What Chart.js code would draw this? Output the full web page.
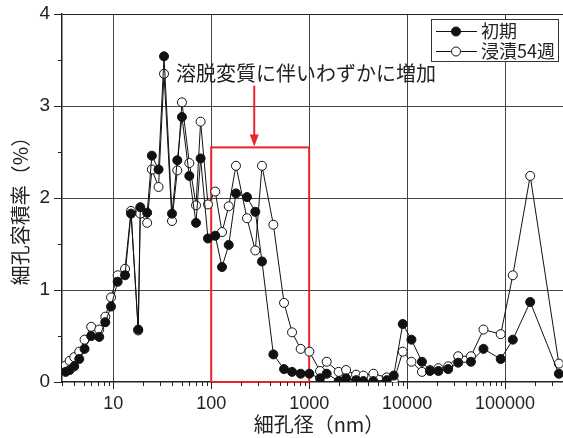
<!DOCTYPE html>
<html><head><meta charset="utf-8">
<script src="https://cdn.jsdelivr.net/npm/chart.js@4.4.1/dist/chart.umd.min.js"></script>
<style>html,body{margin:0;padding:0;background:#fff;overflow:hidden}#wrap{width:563px;height:438px;position:relative}</style>
</head><body><div id="wrap"><canvas id="c" width="563" height="438"></canvas></div>
<script>
// ---- data ----
const poreSize = [3.27, 3.59, 4.0, 4.5, 5.1, 5.96, 7.2, 8.3, 9.5, 11.1,
  13.2, 15.2, 18.0, 18.9, 22.2, 24.8, 29.0, 33.0, 39.8, 45.1,
  50.3, 59.8, 70.0, 78.0, 92.7, 110, 129, 151, 179, 232,
  282, 330, 431, 554, 669, 819, 1005, 1292, 1510, 2000,
  2382, 3013, 3579, 4525, 6190, 7300, 9020, 11070, 14160, 17100,
  20880, 26240, 33200, 44850, 60150, 90200, 119900, 180400, 353800];
const initialVol = [0.11, 0.13, 0.17, 0.25, 0.36, 0.50, 0.49, 0.65, 0.82, 1.09,
  1.16, 1.83, 0.57, 1.90, 1.84, 2.46, 2.31, 3.54, 1.83, 2.41,
  2.88, 2.24, 1.73, 2.43, 1.56, 1.59, 1.25, 1.49, 2.05, 2.01,
  1.85, 1.31, 0.30, 0.14, 0.11, 0.09, 0.09, 0.04, 0.09, 0.01,
  0.04, 0.02, 0.01, 0.01, 0.02, 0.07, 0.63, 0.46, 0.22, 0.12,
  0.12, 0.14, 0.21, 0.22, 0.36, 0.25, 0.46, 0.87, 0.09];
const immersedVol = [0.18, 0.23, 0.27, 0.33, 0.46, 0.60, 0.57, 0.71, 0.92, 1.16,
  1.23, 1.86, 0.56, 1.83, 1.73, 2.31, 2.12, 3.35, 1.75, 2.30,
  3.04, 2.38, 1.92, 2.83, 1.93, 2.07, 1.63, 1.91, 2.35, 1.78,
  1.43, 2.35, 1.71, 0.86, 0.54, 0.36, 0.33, 0.12, 0.22, 0.11,
  0.13, 0.08, 0.07, 0.09, 0.05, 0.01, 0.33, 0.22, 0.11, 0.13,
  0.15, 0.17, 0.28, 0.28, 0.57, 0.52, 1.16, 2.24, 0.20];
const seriesNames = ['初期', '浸漬54週'];
const xMajorTicks = [10, 100, 1000, 10000, 100000];
const yMajorTicks = [0, 1, 2, 3, 4];
const xTitle = '細孔径（nm）';
const yTitle = '細孔容積率（%）';
const noteText = '溶脱変質に伴いわずかに増加';
const boxXRange = [100, 1000];
const boxYTop = 2.55;
const arrowX = 275;
const arrowYRange = [3.22, 2.56];

// ---- chart ----
const CJK = '"Noto Sans CJK JP", "Noto Sans", sans-serif';
const LAT = '"Liberation Sans", Arial, sans-serif';
const X_MIN = 3, X_MAX = 390000;

function xTickValues() {
  const v = [];
  for (let e = 0; e <= 5; e++) {
    for (let m = 1; m <= 9; m++) {
      const t = m * Math.pow(10, e);
      if (t >= X_MIN && t <= X_MAX) v.push(t);
    }
  }
  return v;
}
const isMajorX = v => xMajorTicks.some(t => Math.abs(t - v) < 1e-6 * t);

const extras = {
  id: 'extras',
  beforeDatasetsDraw(chart) {
    const { ctx, scales: { x, y } } = chart;
    ctx.save();
    ctx.strokeStyle = '#e8242c';
    ctx.lineWidth = 2;
    const x0 = x.getPixelForValue(boxXRange[0]), x1 = x.getPixelForValue(boxXRange[1]);
    const y0 = y.getPixelForValue(0), y1 = y.getPixelForValue(boxYTop);
    ctx.strokeRect(x0, y1, x1 - x0, y0 - y1);
    const ax = x.getPixelForValue(arrowX);
    const ay0 = y.getPixelForValue(arrowYRange[0]), ay1 = y.getPixelForValue(arrowYRange[1]);
    ctx.beginPath(); ctx.moveTo(ax, ay0); ctx.lineTo(ax, ay1 - 10); ctx.stroke();
    ctx.fillStyle = '#e8242c';
    ctx.beginPath(); ctx.moveTo(ax - 4.5, ay1 - 12); ctx.lineTo(ax + 4.5, ay1 - 12); ctx.lineTo(ax, ay1); ctx.closePath(); ctx.fill();
    ctx.restore();
  },
  afterDraw(chart) {
    const { ctx, scales: { x, y }, chartArea } = chart;
    ctx.save();
    ctx.strokeStyle = '#222';
    ctx.lineWidth = 1;
    xTickValues().forEach(v => {
      const px = Math.round(x.getPixelForValue(v)) + 0.5;
      const len = isMajorX(v) ? 7 : 4;
      ctx.beginPath(); ctx.moveTo(px, chartArea.bottom); ctx.lineTo(px, chartArea.bottom + len); ctx.stroke();
    });
    for (let v = 0; v <= 4.001; v += 0.5) {
      const py = Math.round(y.getPixelForValue(v)) + 0.5;
      const len = Number.isInteger(v) ? 8 : 4;
      ctx.beginPath(); ctx.moveTo(chartArea.left - len, py); ctx.lineTo(chartArea.left, py); ctx.stroke();
    }
    ctx.fillStyle = '#222';
    ctx.font = '20px ' + CJK;
    ctx.textAlign = 'left';
    ctx.textBaseline = 'middle';
    ctx.fillText(noteText, 176, 73);
    ctx.textAlign = 'center';
    ctx.fillText(xTitle, 319, 424);
    ctx.save();
    ctx.translate(20, 206);
    ctx.rotate(-Math.PI / 2);
    ctx.fillText(yTitle, 0, 0);
    ctx.restore();
    const lx = 431, ly = 19, lw = 127, lh = 42;
    ctx.fillStyle = '#fff';
    ctx.fillRect(lx, ly, lw, lh);
    ctx.strokeStyle = '#333';
    ctx.lineWidth = 1;
    ctx.strokeRect(lx + 0.5, ly + 0.5, lw, lh);
    chart.data.datasets.forEach((ds, i) => {
      const cy = ly + 12.5 + i * 20;
      ctx.strokeStyle = '#111';
      ctx.lineWidth = 1;
      ctx.beginPath(); ctx.moveTo(436, cy); ctx.lineTo(477, cy); ctx.stroke();
      ctx.beginPath(); ctx.arc(456, cy, 4.5, 0, Math.PI * 2);
      ctx.fillStyle = ds.pointBackgroundColor; ctx.fill(); ctx.stroke();
      ctx.fillStyle = '#222';
      ctx.font = '18px ' + CJK;
      ctx.textAlign = 'left';
      ctx.textBaseline = 'middle';
      ctx.fillText(ds.label, 481, cy);
    });
    ctx.restore();
  }
};

new Chart(document.getElementById('c'), {
  type: 'line',
  data: {
    datasets: [
      {
        label: seriesNames[0],
        data: poreSize.map((p, i) => ({ x: p, y: initialVol[i] })),
        borderColor: '#111', borderWidth: 1,
        pointBackgroundColor: '#111', pointBorderColor: '#111',
        pointRadius: 4.5, pointBorderWidth: 1, tension: 0
      },
      {
        label: seriesNames[1],
        data: poreSize.map((p, i) => ({ x: p, y: immersedVol[i] })),
        borderColor: '#111', borderWidth: 1,
        pointBackgroundColor: '#fff', pointBorderColor: '#111',
        pointRadius: 4.5, pointBorderWidth: 1, tension: 0
      }
    ]
  },
  options: {
    responsive: false,
    devicePixelRatio: 1,
    animation: false,
    layout: { autoPadding: false, padding: { top: 14, right: 0, left: 0, bottom: 0 } },
    plugins: { legend: { display: false }, tooltip: { enabled: false } },
    scales: {
      x: {
        type: 'logarithmic', min: X_MIN, max: X_MAX, position: 'bottom',
        afterBuildTicks: s => { s.ticks = xTickValues().map(v => ({ value: v })); },
        afterFit: s => { s.height = 56; s.paddingLeft = 0; s.paddingRight = 0; },
        ticks: {
          autoSkip: false, maxRotation: 0, minRotation: 0, padding: 11,
          color: '#222', font: { family: LAT, size: 18 },
          callback: v => isMajorX(v) ? String(v) : ''
        },
        grid: {
          drawTicks: false, lineWidth: 1,
          color: c => (c.tick && isMajorX(c.tick.value)) ? '#444' : 'rgba(0,0,0,0)'
        },
        border: { display: true, color: '#222', width: 1.5 }
      },
      y: {
        min: 0, max: 4,
        afterBuildTicks: s => { const t = []; for (let v = 0; v <= 4.001; v += 0.5) t.push({ value: v }); s.ticks = t; },
        afterFit: s => { s.width = 62; s.paddingTop = 0; s.paddingBottom = 0; },
        ticks: {
          autoSkip: false, padding: 12,
          color: '#222', font: { family: LAT, size: 19 },
          callback: v => yMajorTicks.includes(v) ? String(v) : ''
        },
        grid: {
          drawTicks: false, lineWidth: 1,
          color: c => {
            const v = c.tick ? c.tick.value : 0;
            if (v === 4) return '#222';
            return (v > 0 && Number.isInteger(v)) ? '#444' : 'rgba(0,0,0,0)';
          }
        },
        border: { display: true, color: '#222', width: 1.5 }
      }
    }
  },
  plugins: [extras]
});
</script>
</body></html>
